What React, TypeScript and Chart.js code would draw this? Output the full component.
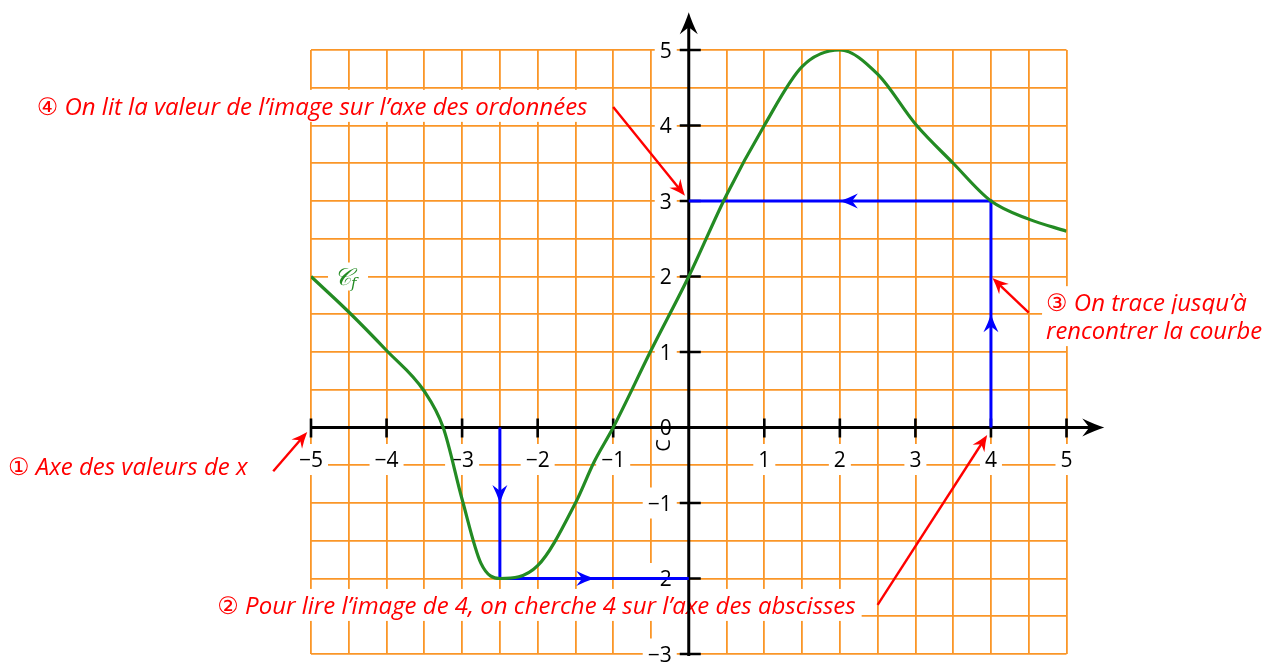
import React, { useEffect, useRef } from "react";
import { Chart, registerables } from "chart.js";

Chart.register(...registerables);

// ---- data ----
const curveX = [-5, -4.5, -4, -3.5, -3.25, -3, -2.75, -2.5, -2, -1.5, -1.25, -1, -0.5, 0, 0.5, 1, 1.5, 2, 2.5, 3, 3.5, 4, 4.5, 5];
const curveY = [2, 1.53, 1.02, 0.48, 0, -0.95, -1.8, -2, -1.83, -1.0, -0.45, 0, 1.02, 2, 3.08, 4, 4.78, 5, 4.68, 4.02, 3.5, 3, 2.76, 2.6];

const readX = [4, 4, 0];
const readY = [0, 3, 3];
const findX = [-2.5, -2.5, 0];
const findY = [0, -2, -2];

const xTicks = [-5, -4, -3, -2, -1, 1, 2, 3, 4, 5];
const yTicks = [-3, -2, -1, 0, 1, 2, 3, 4, 5];

const curveLabel = "𝒞";
const curveLabelSub = "f";
const note1 = "① Axe des valeurs de x";
const note2 = "② Pour lire l’image de 4, on cherche 4 sur l’axe des abscisses";
const note3a = "③ On trace jusqu’à";
const note3b = "rencontrer la courbe";
const note4 = "④ On lit la valeur de l’image sur l’axe des ordonnées";

// annotation anchors in data units: [textLeftX, textCenterY, targetWidthUnits]
const note1Pos = [-9.01, -0.52, 3.27];
const note2Pos = [-6.24, -2.35, 8.52];
const note3aPos = [4.73, 1.66, 2.86];
const note3bPos = [4.73, 1.29, 2.86];
const note4Pos = [-8.63, 4.26, 7.45];
// arrows: [fromX, fromY, toX, toY]
const arrow1 = [-5.5, -0.58, -5.05, -0.06];
const arrow2 = [2.5, -2.35, 3.95, -0.1];
const arrow3 = [4.5, 1.52, 4.02, 1.98];
const arrow4 = [-1.0, 4.245, -0.05, 3.07];

const W = 1273;
const H = 662;
const GRID = "rgb(250,150,40)";
const GREEN = "#238b23";
const BLUE = "#0000ff";
const RED = "#ff0000";
const LABEL_FONT = '"Open Sans", "DejaVu Sans", sans-serif';

function fmt(v: number) {
  return v < 0 ? "\u2212" + Math.abs(v) : String(v);
}

function arrowHead(ctx: CanvasRenderingContext2D, x: number, y: number, ang: number, len: number, half: number, color: string) {
  ctx.save();
  ctx.translate(x, y);
  ctx.rotate(ang);
  ctx.fillStyle = color;
  ctx.beginPath();
  ctx.moveTo(0, 0);
  ctx.quadraticCurveTo(-len * 0.45, -half * 0.35, -len, -half);
  ctx.lineTo(-len * 0.68, 0);
  ctx.lineTo(-len, half);
  ctx.quadraticCurveTo(-len * 0.45, half * 0.35, 0, 0);
  ctx.closePath();
  ctx.fill();
  ctx.restore();
}

const decor = {
  id: "decor",
  beforeDatasetsDraw(chart: any) {
    const ctx: CanvasRenderingContext2D = chart.ctx;
    const xs = chart.scales.x;
    const ys = chart.scales.y;
    const X = (v: number) => xs.getPixelForValue(v);
    const Y = (v: number) => ys.getPixelForValue(v);
    const unit = X(1) - X(0);
    ctx.save();

    // annotation texts with white boxes
    const notes: [string, number[]][] = [
      [note1, note1Pos],
      [note2, note2Pos],
      [note3a, note3aPos],
      [note3b, note3bPos],
      [note4, note4Pos],
    ];
    ctx.textBaseline = "alphabetic";
    ctx.textAlign = "left";
    notes.forEach(([t, p]) => {
      const base = 21;
      ctx.font = `italic ${base}px ${LABEL_FONT}`;
      const mw = ctx.measureText(t).width;
      let size = (base * p[2] * unit) / mw;
      size = Math.max(17, Math.min(24, size));
      ctx.font = `italic ${size}px ${LABEL_FONT}`;
      const w = ctx.measureText(t).width;
      const lx = X(p[0]);
      const cy = Y(p[1]);
      ctx.fillStyle = "#fff";
      ctx.fillRect(lx - 4, cy - 16, w + 10, 32);
      ctx.fillStyle = RED;
      ctx.fillText(t, lx, cy + size * 0.36);
    });

    // curve label
    ctx.fillStyle = "#fff";
    ctx.fillRect(X(-4.51) - 20, Y(2) - 14, 40, 28);
    ctx.fillStyle = GREEN;
    ctx.font = `italic 24px "DejaVu Serif", serif`;
    ctx.textAlign = "left";
    const cw = ctx.measureText(curveLabel).width;
    ctx.fillText(curveLabel, X(-4.51) - 14, Y(2) + 8);
    ctx.font = `italic 15px "DejaVu Serif", serif`;
    ctx.fillText(curveLabelSub, X(-4.51) - 14 + cw, Y(2) + 11);

    // tick labels
    ctx.font = `21px ${LABEL_FONT}`;
    xTicks.forEach((v) => {
      const t = fmt(v);
      const w = ctx.measureText(t).width;
      const cx = X(v);
      const base = Y(0) + 39.5;
      ctx.fillStyle = "#fff";
      ctx.fillRect(cx - w / 2 - 5, base - 23, w + 10, 31);
      ctx.fillStyle = "#000";
      ctx.textAlign = "center";
      ctx.fillText(t, cx, base);
    });
    yTicks.forEach((v) => {
      const t = fmt(v);
      const w = ctx.measureText(t).width;
      const rx = X(0) - 17;
      const base = Y(v) + 7.5;
      ctx.fillStyle = "#fff";
      ctx.fillRect(rx - w - 5, base - 23, w + 10, 31);
      ctx.fillStyle = "#000";
      ctx.textAlign = "right";
      ctx.fillText(t, rx, base);
    });

    // odd glyph below origin
    ctx.save();
    ctx.translate(X(0) - 24, Y(0) + 18);
    ctx.rotate(-Math.PI / 2);
    ctx.font = `20px ${LABEL_FONT}`;
    ctx.textAlign = "center";
    ctx.textBaseline = "middle";
    ctx.fillStyle = "#000";
    ctx.fillText("C", 0, 0);
    ctx.restore();

    // axes
    ctx.strokeStyle = "#000";
    ctx.lineWidth = 3;
    ctx.beginPath();
    ctx.moveTo(X(-5), Y(0));
    ctx.lineTo(X(5.5) - 12, Y(0));
    ctx.moveTo(X(0), Y(-3) + 2);
    ctx.lineTo(X(0), Y(5.5) + 12);
    ctx.stroke();
    arrowHead(ctx, X(5.5), Y(0), 0, 22, 9, "#000");
    arrowHead(ctx, X(0), Y(5.5), -Math.PI / 2, 22, 9, "#000");

    ctx.lineWidth = 2.6;
    ctx.beginPath();
    for (let v = -5; v <= 5; v++) {
      if (v === 0) continue;
      ctx.moveTo(X(v), Y(0) - 9);
      ctx.lineTo(X(v), Y(0) + 10);
    }
    for (let v = -3; v <= 5; v++) {
      if (v === 0) continue;
      ctx.moveTo(X(0) - 9, Y(v));
      ctx.lineTo(X(0) + 12, Y(v));
    }
    ctx.stroke();
    ctx.restore();
  },
  afterDatasetsDraw(chart: any) {
    const ctx: CanvasRenderingContext2D = chart.ctx;
    const xs = chart.scales.x;
    const ys = chart.scales.y;
    const X = (v: number) => xs.getPixelForValue(v);
    const Y = (v: number) => ys.getPixelForValue(v);
    ctx.save();

    // blue arrowheads at segment midpoints
    const paths = [
      [readX, readY],
      [findX, findY],
    ];
    paths.forEach(([px, py]) => {
      for (let i = 0; i < px.length - 1; i++) {
        const x0 = X(px[i]), y0 = Y(py[i]), x1 = X(px[i + 1]), y1 = Y(py[i + 1]);
        const ang = Math.atan2(y1 - y0, x1 - x0);
        arrowHead(ctx, (x0 + x1) / 2, (y0 + y1) / 2, ang, 18, 7.5, BLUE);
      }
    });

    // red pointer arrows
    [arrow1, arrow2, arrow3, arrow4].forEach((a) => {
      const x0 = X(a[0]), y0 = Y(a[1]), x1 = X(a[2]), y1 = Y(a[3]);
      const ang = Math.atan2(y1 - y0, x1 - x0);
      ctx.strokeStyle = RED;
      ctx.lineWidth = 2.4;
      ctx.beginPath();
      ctx.moveTo(x0, y0);
      ctx.lineTo(x1 - Math.cos(ang) * 8, y1 - Math.sin(ang) * 8);
      ctx.stroke();
      arrowHead(ctx, x1, y1, ang, 16, 7, RED);
    });
    ctx.restore();
  },
};

export default function App() {
  const ref = useRef<HTMLCanvasElement>(null);
  useEffect(() => {
    const toPts = (xs: number[], ys: number[]) => xs.map((x, i) => ({ x, y: ys[i] }));
    const chart = new Chart(ref.current as HTMLCanvasElement, {
      type: "scatter",
      data: {
        datasets: [
          {
            data: toPts(curveX, curveY),
            showLine: true,
            borderColor: GREEN,
            borderWidth: 3.2,
            pointRadius: 0,
            cubicInterpolationMode: "monotone",
            fill: false,
          } as any,
          {
            data: toPts(readX, readY),
            showLine: true,
            borderColor: BLUE,
            borderWidth: 3,
            pointRadius: 0,
            tension: 0,
          },
          {
            data: toPts(findX, findY),
            showLine: true,
            borderColor: BLUE,
            borderWidth: 3,
            pointRadius: 0,
            tension: 0,
          },
        ],
      },
      options: {
        animation: false,
        responsive: false,
        devicePixelRatio: 1,
        events: [],
        layout: { padding: { left: 311, right: 206.5, top: 50, bottom: 8 } },
        plugins: { legend: { display: false }, tooltip: { enabled: false } },
        scales: {
          x: {
            type: "linear",
            min: -5,
            max: 5,
            ticks: { display: false, stepSize: 0.5 },
            grid: { color: GRID, lineWidth: 1.8, drawTicks: false },
            border: { display: false },
            afterFit: (s: any) => {
              s.height = 0;
            },
          },
          y: {
            type: "linear",
            min: -3,
            max: 5,
            ticks: { display: false, stepSize: 0.5 },
            grid: { color: GRID, lineWidth: 1.8, drawTicks: false },
            border: { display: false },
            afterFit: (s: any) => {
              s.width = 0;
            },
          },
        },
      } as any,
      plugins: [decor],
    });
    return () => chart.destroy();
  }, []);
  return (
    <div style={{ position: "absolute", left: 0, top: 0, width: W, height: H, background: "#fff" }}>
      <canvas ref={ref} width={W} height={H} style={{ display: "block", width: W, height: H }} />
    </div>
  );
}
